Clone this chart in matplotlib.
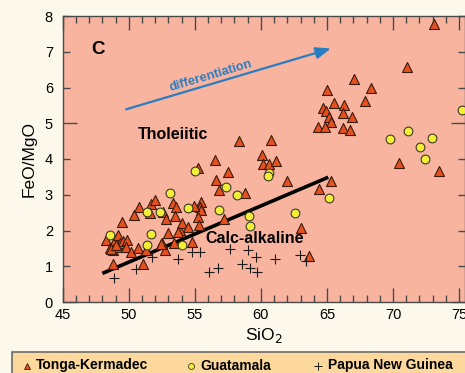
import matplotlib
matplotlib.use("Agg")
import matplotlib.pyplot as plt
from matplotlib.ticker import MultipleLocator, FixedLocator, FormatStrFormatter
from matplotlib.patches import Rectangle
from matplotlib.lines import Line2D

plt.rcParams['font.family'] = ['Liberation Sans', 'DejaVu Sans']

# ---- data ----
tonga_x = [48.27, 48.57, 48.82, 48.95, 49.15, 49.2, 49.33, 49.53, 49.83, 49.78, 50.16, 50.71,
           51.34, 52.48, 52.75, 53.4, 54.79, 52.98, 53.86, 49.5, 48.82, 51.09, 48.65, 49.0,
           50.39, 50.79, 51.72, 51.97, 51.59, 52.6, 53.35, 53.6, 53.48, 52.85, 54.03, 54.49,
           55.5, 55.37, 55.5, 55.24, 55.32, 54.92, 57.18, 53.73, 52.42,
           55.24, 56.5, 57.5, 56.58, 56.8, 58.77, 58.35, 60.79, 60.1, 60.15, 60.6, 61.16,
           61.97, 64.43, 65.32, 63.05, 63.63,
           65.0, 67.08, 68.34, 67.91, 65.51, 66.32, 64.73, 64.93, 66.25, 65.19, 66.9, 65.32,
           64.3, 64.86, 66.2, 66.75, 71.03, 73.12, 70.42, 73.5]
tonga_y = [1.73, 1.50, 1.45, 1.73, 1.87, 1.55, 1.64, 1.71, 1.73, 1.55, 1.41, 1.50,
           1.45, 1.64, 1.45, 1.66, 1.69, 1.92, 2.01, 2.25, 1.05, 1.07, 1.47, 1.59,
           2.43, 2.67, 2.75, 2.85, 2.48, 2.53, 2.76, 2.67, 2.41, 2.31, 2.20, 2.11,
           2.81, 2.67, 2.57, 2.37, 2.15, 2.68, 2.31, 1.97, 1.62,
           3.74, 3.97, 3.65, 3.41, 3.12, 3.04, 4.50, 4.53, 4.11, 3.85, 3.86, 3.95,
           3.39, 3.17, 3.38, 2.06, 1.28,
           5.93, 6.23, 6.00, 5.62, 5.56, 5.51, 5.42, 5.34, 5.28, 5.18, 5.18, 5.03,
           4.90, 4.90, 4.86, 4.81, 6.56, 7.77, 3.88, 3.66]

guat_x = [48.6, 51.38, 52.35, 53.1, 51.67, 51.38, 54.05, 54.49, 56.85, 55.0, 57.39, 58.23,
          59.12, 59.2, 60.6, 60.53, 62.61, 65.14, 69.8, 71.1, 72.06, 72.92, 72.42, 75.26]
guat_y = [1.87, 2.53, 2.51, 3.04, 1.89, 1.60, 1.59, 2.62, 2.57, 3.67, 3.22, 3.00,
          2.41, 2.13, 3.61, 3.52, 2.48, 2.92, 4.55, 4.78, 4.34, 4.58, 4.00, 5.37]

png_x = [48.92, 50.54, 51.74, 53.7, 54.82, 55.37, 56.1, 56.75, 57.7, 58.6, 59.02, 59.2,
         59.6, 59.7, 61.05, 62.94, 63.38]
png_y = [0.68, 0.92, 1.26, 1.21, 1.41, 1.41, 0.84, 0.94, 1.49, 1.06, 1.46, 0.95,
         1.26, 0.85, 1.21, 1.31, 1.14]

divider_x = [48.0, 65.1]
divider_y = [0.80, 3.49]

arrow_start = (49.8, 5.39)
arrow_end = (65.3, 7.09)

series_names = ["Tonga-Kermadec", "Guatamala", "Papua New Guinea"]

# ---- style ----
fig_bg = "#fcf9ec"
ax_bg = "#f9b4a0"
tri_face = "#e4501e"
tri_edge = "#3a1c0e"
circ_face = "#f4ef36"
circ_edge = "#3a3a2a"

fig = plt.figure(figsize=(4.65, 3.73), dpi=100, facecolor=fig_bg)
ax = fig.add_axes([62.7 / 465, 1 - 302 / 373, 1 - 62.7 / 465, (302 - 16) / 373])
ax.set_facecolor(ax_bg)
ax.set_xlim(45, 75.45)
ax.set_ylim(0, 8)

ax.plot(divider_x, divider_y, color="black", lw=2.6, solid_capstyle="butt", zorder=2)

ax.scatter(tonga_x, tonga_y, marker="^", s=52, facecolor=tri_face, edgecolor=tri_edge,
           linewidths=0.8, zorder=3)
ax.scatter(guat_x, guat_y, marker="o", s=40, facecolor=circ_face, edgecolor=circ_edge,
           linewidths=0.8, zorder=4)
ax.scatter(png_x, png_y, marker="+", s=45, color="#1a1a1a", linewidths=0.8, zorder=4)

ax.annotate("", xy=arrow_end, xytext=arrow_start,
            arrowprops=dict(arrowstyle="-|>,head_length=0.9,head_width=0.35",
                            color="#2a7dc0", lw=1.6, shrinkA=0, shrinkB=0))
ax.text(56.2, 6.33, "differentiation", color="#2a7dc0", fontsize=9.3, fontweight="bold",
        rotation=16.6, ha="center", va="center", rotation_mode="anchor")

ax.text(47.67, 7.06, "C", fontsize=13.5, fontweight="bold", ha="center", va="center")
ax.text(53.38, 4.68, "Tholeiitic", fontsize=11.5, fontweight="bold", ha="center", va="center", zorder=5)
ax.text(59.5, 1.79, "Calc-alkaline", fontsize=11.5, fontweight="bold", ha="center", va="center", zorder=5)

# ticks
ax.xaxis.set_major_locator(MultipleLocator(5))
ax.xaxis.set_minor_locator(MultipleLocator(1))
ax.yaxis.set_major_locator(FixedLocator([0, 5]))
ax.yaxis.set_minor_locator(MultipleLocator(1))
ax.yaxis.set_major_formatter(FormatStrFormatter("%d"))
ax.yaxis.set_minor_formatter(FormatStrFormatter("%d"))
ax.tick_params(which="both", direction="in", top=True, right=True, colors="#4a4a4a",
               labelcolor="black", labelsize=10.5, width=1.0)
ax.tick_params(which="major", length=10)
ax.tick_params(which="minor", length=5.2)
ax.tick_params(axis="x", which="both", pad=4)
ax.tick_params(axis="y", which="both", pad=7)
for sp in ax.spines.values():
    sp.set_color("#4a4a4a")
    sp.set_linewidth(1.0)

ax.set_ylabel("FeO/MgO", fontsize=12.5, labelpad=6)
ax.set_xlabel("SiO$_2$", fontsize=12.5, labelpad=3)

# legend band
fig.patches.append(Rectangle((12 / 465, -0.02), 1.0, 1 - 352 / 373 + 0.02, transform=fig.transFigure,
                             facecolor="#fcd89c", edgecolor="#6a6a6a", lw=1.2, zorder=1))
ly = 1 - 365.5 / 373
fig.add_artist(Line2D([27 / 465], [ly], marker="^", markersize=4.8, markerfacecolor=tri_face,
                      markeredgecolor=tri_edge, markeredgewidth=0.6, transform=fig.transFigure))
fig.text(36 / 465, ly, series_names[0], fontsize=10, fontweight="bold", va="center", ha="left")
fig.add_artist(Line2D([191 / 465], [ly], marker="o", markersize=4.3, markerfacecolor=circ_face,
                      markeredgecolor=circ_edge, markeredgewidth=0.6, transform=fig.transFigure))
fig.text(200 / 465, ly, series_names[1], fontsize=10, fontweight="bold", va="center", ha="left")
fig.add_artist(Line2D([318 / 465], [ly], marker="+", markersize=5.2, color="#1a1a1a",
                      markeredgewidth=0.7, transform=fig.transFigure))
fig.text(328 / 465, ly, series_names[2], fontsize=10, fontweight="bold", va="center", ha="left")

fig.savefig("out.png", dpi=100, facecolor=fig_bg)
